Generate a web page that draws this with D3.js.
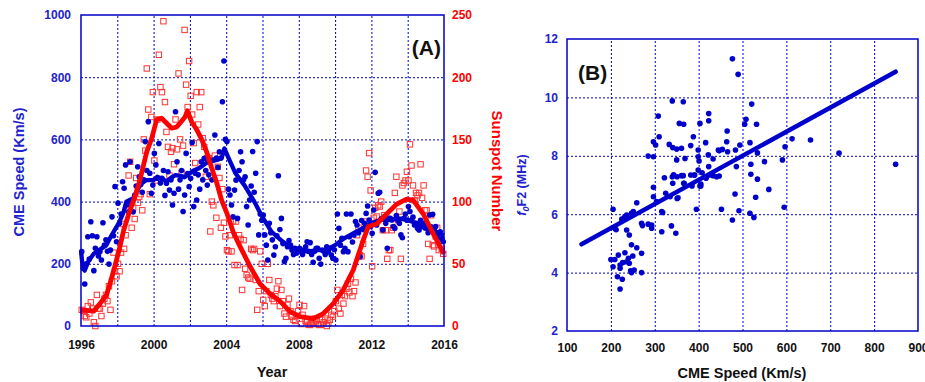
<!DOCTYPE html>
<html>
<head>
<meta charset="utf-8">
<script src="https://cdn.jsdelivr.net/npm/d3@7"></script>
<style>
  body { margin: 0; background: #fff; }
  text { font-family: "Liberation Sans", Arial, sans-serif; font-weight: bold; }
</style>
</head>
<body>
<svg id="chart" width="925" height="382"></svg>
<script>
// monthly mean CME speed (km/s), Jan 1996 .. Dec 2015
const cmeSpeed = [
  239, 186, 135, 200, 287, 215, 335, 290, 178, 250, 287, 225,
  239, 212, 332, 260, 277, 240, 199, 244, 351, 290, 448, 271,
  395, 330, 360, 464, 443, 518, 390, 367, 528, 400, 367, 420,
  450, 512, 480, 455, 430, 470, 593, 500, 657, 491, 427, 453,
  555, 518, 475, 587, 460, 475, 500, 420, 459, 496, 437, 470,
  389, 427, 689, 528, 440, 470, 500, 368, 421, 555, 490, 448,
  475, 590, 384, 491, 405, 486, 440, 528, 470, 539, 500, 453,
  486, 530, 470, 534, 614, 540, 510, 560, 540, 721, 852, 600,
  593, 440, 421, 389, 351, 437, 469, 346, 500, 560, 528, 470,
  480, 384, 325, 405, 450, 561, 430, 491, 593, 293, 360, 340,
  357, 293, 260, 212, 330, 300, 277, 228, 255, 290, 483, 310,
  346, 265, 207, 218, 255, 275, 260, 244, 230, 250, 234, 245,
  250, 239, 230, 245, 255, 271, 240, 268, 230, 205, 240, 250,
  250, 218, 199, 244, 240, 230, 255, 239, 250, 228, 218, 245,
  212, 360, 314, 260, 282, 239, 250, 360, 239, 287, 360, 270,
  293, 336, 325, 300, 223, 339, 310, 330, 362, 386, 341, 320,
  298, 373, 494, 325, 427, 430, 345, 309, 350, 330, 250, 346,
  346, 341, 320, 314, 355, 340, 330, 293, 284, 346, 360, 340,
  384, 368, 341, 350, 325, 330, 314, 309, 340, 320, 330, 315,
  325, 300, 357, 319, 359, 309, 320, 287, 300, 303, 280, 271
];

// monthly sunspot number, Jan 1996 .. Dec 2015
const sunspot = [
  13, 12, 8, 7, 16, 10, 19, 14, 3, 0, 25, 14,
  14, 8, 18, 22, 25, 20, 32, 13, 36, 59, 44, 40,
  50, 44, 59, 82, 62, 73, 97, 121, 132, 79, 95, 86,
  119, 99, 104, 106, 93, 150, 141, 207, 174, 106, 168, 188,
  133, 117, 166, 218, 192, 188, 245, 180, 156, 144, 121, 140,
  143, 130, 166, 142, 203, 150, 123, 145, 238, 194, 176, 213,
  185, 170, 147, 131, 188, 162, 176, 188, 151, 144, 120, 135,
  135, 76, 100, 97, 137, 87, 128, 119, 79, 110, 83, 72,
  61, 60, 73, 60, 84, 49, 84, 49, 73, 70, 29, 69,
  46, 41, 39, 38, 62, 61, 62, 37, 13, 28, 60, 50,
  21, 16, 28, 50, 37, 25, 22, 20, 24, 30, 36, 16,
  29, 20, 10, 7.5, 17, 22, 12, 7.5, 5, 4, 8, 12,
  17, 1.6, 9, 16, 4, 3.5, 1, 0.8, 2, 3, 6, 4,
  1.5, 0.8, 1, 5, 3, 6, 0, 2, 5, 9, 7.5, 12,
  20, 29, 14, 10, 25, 18, 24, 30, 34, 27, 38, 24,
  28, 35, 73, 79, 57, 56, 66, 84, 125, 120, 139, 109,
  48, 87, 95, 88, 97, 96, 100, 77, 89, 77, 54, 61,
  61, 77, 79, 107, 120, 85, 92, 54, 113, 115, 117, 124,
  117, 146, 129, 113, 101, 107, 105, 107, 130, 103, 113, 93,
  93, 66, 54, 89, 65, 64, 72, 79, 61, 70, 62, 58
];

// smoothed curves [year, value]
const cmeSmooth = [
  [1996.0, 240], [1996.1, 187], [1996.2, 178], [1996.4, 207], [1996.7, 232],
  [1997.0, 244], [1997.4, 260], [1997.6, 283], [1997.9, 313], [1998.1, 332],
  [1998.35, 367], [1998.5, 400], [1998.9, 412], [1999.1, 436], [1999.3, 458],
  [1999.6, 469], [2000.0, 469], [2000.2, 480], [2000.5, 472], [2000.7, 465],
  [2001.0, 478], [2001.2, 485], [2001.5, 483], [2001.7, 478], [2002.0, 491],
  [2002.2, 500], [2002.5, 507], [2003.0, 528], [2003.5, 534], [2003.75, 540],
  [2003.9, 571], [2004.1, 544], [2004.5, 492], [2005.0, 453], [2005.5, 405],
  [2006.0, 350], [2006.5, 303], [2007.0, 277], [2007.5, 255], [2008.0, 244],
  [2008.5, 239], [2009.0, 244], [2009.5, 244], [2010.0, 260], [2010.5, 282],
  [2011.0, 298], [2011.5, 314], [2012.0, 330], [2012.5, 341], [2013.0, 341],
  [2013.5, 346], [2014.0, 341], [2014.5, 330], [2015.0, 314], [2015.5, 303],
  [2016.0, 290]
];
const sunSmooth = [
  [1996.0, 13], [1996.7, 12], [1997.05, 18], [1997.4, 25], [1997.6, 34],
  [1997.9, 50], [1998.1, 61], [1998.35, 77], [1998.65, 91], [1998.9, 101],
  [1999.2, 115], [1999.34, 123], [1999.62, 140], [1999.9, 151], [2000.17, 166],
  [2000.44, 167], [2000.72, 163], [2001.0, 159], [2001.27, 160], [2001.45, 163],
  [2001.73, 168], [2001.86, 173], [2002.1, 164], [2002.37, 158], [2002.65, 150],
  [2002.92, 140], [2003.2, 127], [2003.48, 115], [2003.75, 101], [2004.03, 91],
  [2004.4, 75], [2004.76, 64], [2005.31, 48], [2005.86, 34], [2006.41, 26],
  [2006.96, 20], [2007.52, 11.5], [2008.07, 7.5], [2008.79, 6], [2009.35, 10],
  [2009.9, 18], [2010.45, 29], [2011.0, 45], [2011.55, 69], [2011.83, 80],
  [2012.29, 82], [2012.84, 90], [2013.39, 98], [2013.94, 102], [2014.31, 101],
  [2014.86, 90], [2015.41, 74], [2016.0, 58]
];

// panel B: [CME speed (km/s), foF2 (MHz)]
const foF2Points = [
  [200, 4.45], [209, 4.45], [205, 4.2], [217, 4.6], [221, 4.26], [221, 4.15], [227, 4.34],
  [232, 4.68], [236, 4.37], [240, 4.49], [242, 4.32], [247, 4.95], [250, 4.57], [259, 4.85],
  [270, 4.66], [215, 3.86], [226, 3.77], [221, 3.44], [245, 4.06], [253, 4.09], [270, 4.0],
  [247, 4.0], [205, 6.17], [209, 5.52], [212, 5.47], [225, 5.83], [232, 5.92], [236, 5.97],
  [247, 6.03], [251, 6.09], [259, 6.39], [236, 5.46], [242, 5.29],
  [270, 5.69], [272, 5.61], [285, 5.66], [293, 5.63], [293, 5.52], [297, 6.92], [297, 6.6],
  [285, 7.99], [297, 7.97], [297, 8.48], [302, 8.37], [308, 9.36], [310, 8.65],
  [304, 6.43], [316, 6.09], [316, 5.4], [325, 6.72], [335, 6.6], [338, 5.6], [341, 7.06],
  [348, 5.35], [351, 6.54], [353, 6.56], [322, 7.25], [340, 7.28], [343, 7.35], [351, 7.28],
  [340, 9.88], [365, 9.85], [356, 9.11], [366, 9.08], [333, 8.39], [341, 8.28], [350, 8.23],
  [361, 8.26], [350, 7.86], [361, 7.32], [365, 7.32], [366, 7.06], [318, 6.06],
  [367, 7.06], [369, 7.91], [382, 7.34], [382, 8.35], [385, 6.97], [388, 8.65], [390, 7.34],
  [395, 6.17], [399, 8.2], [399, 7.97], [401, 7.82], [403, 6.97], [403, 9.11], [405, 7.03],
  [408, 7.42], [391, 7.34], [399, 7.51], [416, 8.45], [417, 7.23], [418, 7.28], [405, 6.97],
  [423, 9.45], [423, 9.2], [422, 8.03], [423, 7.63], [427, 7.34], [433, 7.89], [433, 7.32],
  [441, 7.28], [445, 8.2], [447, 7.31], [447, 8.17], [452, 6.17], [454, 8.22], [464, 8.48],
  [465, 8.85], [466, 8.14], [477, 5.8], [477, 11.32], [483, 6.69], [484, 8.2],
  [486, 7.63], [490, 10.79], [492, 6.12], [494, 8.37], [505, 9.08], [508, 9.25], [517, 6.03],
  [517, 8.45], [519, 7.71], [519, 7.37], [521, 9.77], [526, 5.89], [530, 6.58], [532, 9.08],
  [534, 7.2], [534, 8.1], [550, 7.8], [560, 6.85], [591, 7.86], [595, 6.24], [597, 8.31],
  [613, 8.58], [655, 8.54], [720, 8.09], [849, 7.71]
];
// linear fit drawn in panel B, [speed, foF2] at both ends
const foF2Fit = [[133, 4.97], [849, 10.88]];

const yearTicks = [1996, 2000, 2004, 2008, 2012, 2016];
const cmeTicks = [0, 200, 400, 600, 800, 1000];
const sunTicks = [0, 50, 100, 150, 200, 250];
const speedTicks = [100, 200, 300, 400, 500, 600, 700, 800, 900];
const foF2Ticks = [2, 4, 6, 8, 10, 12];

const blue = "#0000cc", red = "#ff0000", labelBlue = "#2222cc";
const svg = d3.select("#chart");

function styleGrid(g) {
  g.select(".domain").remove();
  g.selectAll("line").attr("stroke", blue).attr("stroke-width", 1).attr("stroke-dasharray", "2,2");
}
function styleLabels(g, color, size) {
  g.select(".domain").remove();
  g.selectAll("line").remove();
  g.selectAll("text").attr("fill", color).style("font-size", size + "px");
}

/*
 * Panel A
 */
const A = { left: 81, right: 444, top: 15, bottom: 326 };
const xA = d3.scaleLinear().domain([1996, 2016]).range([A.left, A.right]);
const yCme = d3.scaleLinear().domain([0, 1000]).range([A.bottom, A.top]);
const ySun = d3.scaleLinear().domain([0, 250]).range([A.bottom, A.top]);
const month = i => 1996 + (i + 0.5) / 12;

const gA = svg.append("g");
gA.append("g").attr("transform", `translate(0,${A.bottom})`)
  .call(d3.axisBottom(xA).tickValues(d3.range(1998, 2016, 2)).tickSize(-(A.bottom - A.top)).tickFormat(""))
  .call(styleGrid);
gA.append("g").attr("transform", `translate(${A.left},0)`)
  .call(d3.axisLeft(yCme).tickValues([200, 400, 600, 800]).tickSize(-(A.right - A.left)).tickFormat(""))
  .call(styleGrid);

gA.append("g").attr("transform", `translate(0,${A.bottom})`)
  .call(d3.axisBottom(xA).tickValues(yearTicks).tickFormat(d3.format("d")).tickSize(0).tickPadding(14))
  .call(g => styleLabels(g, "#111", 12));
gA.append("g").attr("transform", `translate(${A.left},0)`)
  .call(d3.axisLeft(yCme).tickValues(cmeTicks).tickFormat(d3.format("d")).tickSize(0).tickPadding(10))
  .call(g => styleLabels(g, labelBlue, 12));
gA.append("g").attr("transform", `translate(${A.right},0)`)
  .call(d3.axisRight(ySun).tickValues(sunTicks).tickFormat(d3.format("d")).tickSize(0).tickPadding(8))
  .call(g => styleLabels(g, red, 12));

gA.append("g").selectAll("rect").data(sunspot).join("rect")
  .attr("x", (d, i) => xA(month(i)) - 2.7)
  .attr("y", d => ySun(d) - 2.7)
  .attr("width", 5.4).attr("height", 5.4)
  .attr("fill", "none").attr("stroke", "#ff3333").attr("stroke-width", 1);

gA.append("g").selectAll("circle").data(cmeSpeed).join("circle")
  .attr("cx", (d, i) => xA(month(i)))
  .attr("cy", d => yCme(d))
  .attr("r", 2.8).attr("fill", blue);

gA.append("path").datum(cmeSmooth)
  .attr("d", d3.line().x(d => xA(d[0])).y(d => yCme(d[1])))
  .attr("fill", "none").attr("stroke", blue).attr("stroke-width", 4.3).attr("stroke-linejoin", "round");
gA.append("path").datum(sunSmooth)
  .attr("d", d3.line().x(d => xA(d[0])).y(d => ySun(d[1])))
  .attr("fill", "none").attr("stroke", red).attr("stroke-width", 4.8).attr("stroke-linejoin", "round");

gA.append("rect").attr("x", A.left).attr("y", A.top)
  .attr("width", A.right - A.left).attr("height", A.bottom - A.top)
  .attr("fill", "none").attr("stroke", blue).attr("stroke-width", 1.5);

gA.append("text").attr("x", 441).attr("y", 55).attr("text-anchor", "end")
  .style("font-size", "21px").attr("fill", "#111").text("(A)");
gA.append("text").attr("x", 272).attr("y", 377).attr("text-anchor", "middle")
  .style("font-size", "14.5px").attr("fill", "#111").text("Year");
gA.append("text").attr("transform", "translate(24,172) rotate(-90)").attr("text-anchor", "middle")
  .style("font-size", "14.5px").attr("fill", labelBlue).text("CME Speed (Km/s)");
gA.append("text").attr("transform", "translate(492,171) rotate(90)").attr("text-anchor", "middle")
  .style("font-size", "15px").attr("fill", red).text("Sunspot Number");

/*
 * Panel B
 */
const B = { left: 567, right: 918, top: 39, bottom: 331 };
const xB = d3.scaleLinear().domain([100, 900]).range([B.left, B.right]);
const yB = d3.scaleLinear().domain([2, 12]).range([B.bottom, B.top]);

const gB = svg.append("g");
gB.append("g").attr("transform", `translate(0,${B.bottom})`)
  .call(d3.axisBottom(xB).tickValues(d3.range(200, 900, 100)).tickSize(-(B.bottom - B.top)).tickFormat(""))
  .call(styleGrid);
gB.append("g").attr("transform", `translate(${B.left},0)`)
  .call(d3.axisLeft(yB).tickValues([4, 6, 8, 10]).tickSize(-(B.right - B.left)).tickFormat(""))
  .call(styleGrid);

gB.append("g").attr("transform", `translate(0,${B.bottom})`)
  .call(d3.axisBottom(xB).tickValues(speedTicks).tickSize(0).tickPadding(12))
  .call(g => styleLabels(g, "#111", 12));
gB.append("g").attr("transform", `translate(${B.left},0)`)
  .call(d3.axisLeft(yB).tickValues(foF2Ticks).tickSize(0).tickPadding(9))
  .call(g => styleLabels(g, labelBlue, 12));

gB.append("g").selectAll("circle").data(foF2Points).join("circle")
  .attr("cx", d => xB(d[0])).attr("cy", d => yB(d[1]))
  .attr("r", 2.8).attr("fill", blue);

gB.append("path").datum(foF2Fit)
  .attr("d", d3.line().x(d => xB(d[0])).y(d => yB(d[1])))
  .attr("fill", "none").attr("stroke", blue).attr("stroke-width", 4.5).attr("stroke-linecap", "round");

gB.append("rect").attr("x", B.left).attr("y", B.top)
  .attr("width", B.right - B.left).attr("height", B.bottom - B.top)
  .attr("fill", "none").attr("stroke", blue).attr("stroke-width", 1.5);

gB.append("text").attr("x", 578).attr("y", 80)
  .style("font-size", "21px").attr("fill", "#111").text("(B)");
gB.append("text").attr("x", 742).attr("y", 378).attr("text-anchor", "middle")
  .style("font-size", "14.5px").attr("fill", "#111").text("CME Speed (Km/s)");

const fLabel = gB.append("text").attr("transform", "translate(526,185) rotate(-90)")
  .attr("text-anchor", "middle").style("font-size", "12.5px").attr("fill", labelBlue);
fLabel.append("tspan").style("font-style", "italic").text("f");
fLabel.append("tspan").style("font-style", "italic").style("font-size", "9px").attr("dy", 3).text("0");
fLabel.append("tspan").attr("dy", -3).text("F2 (MHz)");
</script>
</body>
</html>
